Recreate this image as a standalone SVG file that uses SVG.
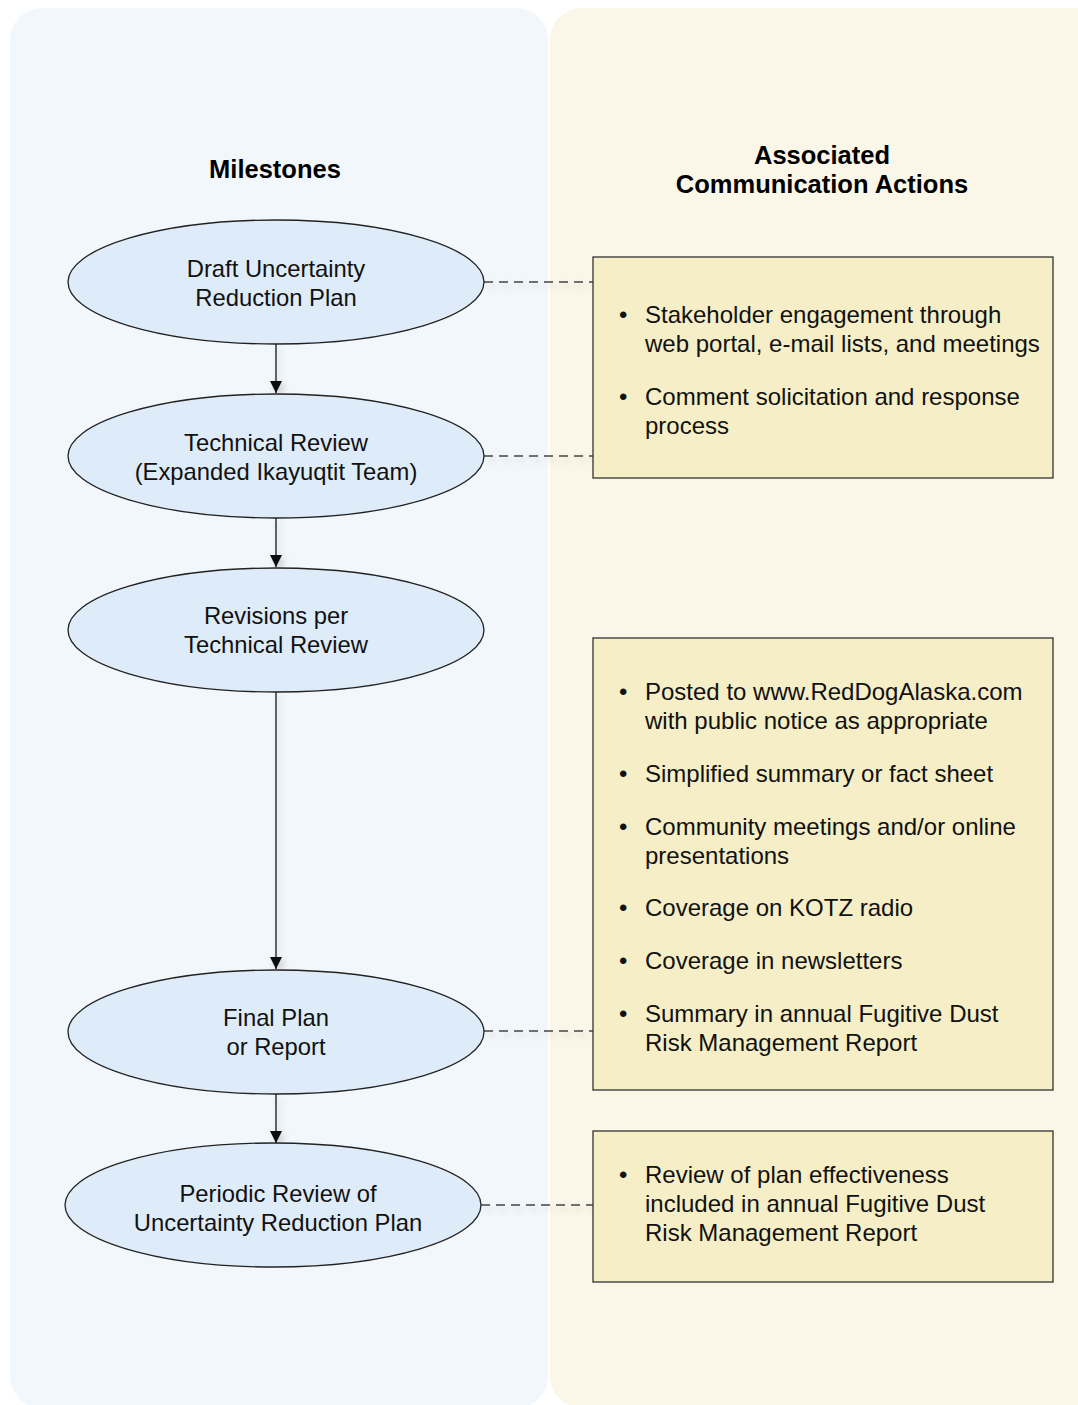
<svg xmlns="http://www.w3.org/2000/svg" width="1078" height="1405" viewBox="0 0 1078 1405">
<style>
.lane-l{fill:#f2f7fc}
.lane-r{fill:#faf7e8}
.hdr{font-family:"Liberation Sans",Arial,sans-serif;font-weight:bold;font-size:25.5px;fill:#000;text-anchor:middle}
.ell{fill:#deebf8;stroke:#222;stroke-width:1.3}
.et{font-family:"Liberation Sans",Arial,sans-serif;font-size:23.8px;fill:#111;text-anchor:middle}
.box{fill:#f5eec6;stroke:#333;stroke-width:1.3}
.bt{font-family:"Liberation Sans",Arial,sans-serif;font-size:24px;fill:#111}
.arr{stroke:#111;stroke-width:1.3;fill:none}
.dash{stroke:#444;stroke-width:1.3;stroke-dasharray:9,6;fill:none}
</style>
<defs>
<marker id="ah" markerWidth="12" markerHeight="14" refX="12" refY="7" orient="auto" markerUnits="userSpaceOnUse">
<path d="M0,1 L12,7 L0,13 z" fill="#111"/>
</marker>
<filter id="sh" x="-50%" y="-50%" width="200%" height="200%">
<feDropShadow dx="3" dy="4" stdDeviation="3" flood-color="#000" flood-opacity="0.18"/>
</filter>
</defs>
<rect class="lane-l" x="10" y="8" width="538" height="1400" rx="32"/>
<rect class="lane-r" x="550" y="8" width="560" height="1400" rx="32"/>
<text class="hdr" x="275" y="178">Milestones</text>
<text class="hdr" x="822" y="164">Associated</text>
<text class="hdr" x="822" y="193">Communication Actions</text>
<g id="connectors" filter="url(#sh)">
<line class="arr" x1="276" y1="344" x2="276" y2="393" marker-end="url(#ah)"/>
<line class="arr" x1="276" y1="517" x2="276" y2="567" marker-end="url(#ah)"/>
<line class="arr" x1="276" y1="691" x2="276" y2="969" marker-end="url(#ah)"/>
<line class="arr" x1="276" y1="1094" x2="276" y2="1143" marker-end="url(#ah)"/>
<line class="dash" x1="484" y1="282" x2="593" y2="282"/>
<line class="dash" x1="484" y1="456" x2="593" y2="456"/>
<line class="dash" x1="484" y1="1031" x2="593" y2="1031"/>
<line class="dash" x1="481" y1="1205" x2="593" y2="1205"/>
</g>
<g id="n1"><ellipse class="ell" cx="276" cy="282" rx="208" ry="62"/>
<text class="et" x="276" y="277">Draft Uncertainty</text><text class="et" x="276" y="306">Reduction Plan</text></g>
<g id="n2"><ellipse class="ell" cx="276" cy="456" rx="208" ry="62"/>
<text class="et" x="276" y="451">Technical Review</text><text class="et" x="276" y="480">(Expanded Ikayuqtit Team)</text></g>
<g id="n3"><ellipse class="ell" cx="276" cy="630" rx="208" ry="62"/>
<text class="et" x="276" y="624">Revisions per</text><text class="et" x="276" y="653">Technical Review</text></g>
<g id="n4"><ellipse class="ell" cx="276" cy="1032" rx="208" ry="62"/>
<text class="et" x="276" y="1026">Final Plan</text><text class="et" x="276" y="1055">or Report</text></g>
<g id="n5"><ellipse class="ell" cx="273" cy="1205" rx="208" ry="62"/>
<text class="et" x="278" y="1202">Periodic Review of</text><text class="et" x="278" y="1231">Uncertainty Reduction Plan</text></g>
<g id="b1"><rect class="box" x="593" y="257" width="460" height="221"/>
<text class="bt"><tspan x="619" y="323">•</tspan><tspan x="645" y="323">Stakeholder engagement through</tspan><tspan x="645" y="352">web portal, e-mail lists, and meetings</tspan>
<tspan x="619" y="405">•</tspan><tspan x="645" y="405">Comment solicitation and response</tspan><tspan x="645" y="434">process</tspan></text></g>
<g id="b2"><rect class="box" x="593" y="638" width="460" height="452"/>
<text class="bt"><tspan x="619" y="700">•</tspan><tspan x="645" y="700">Posted to www.RedDogAlaska.com</tspan><tspan x="645" y="729">with public notice as appropriate</tspan>
<tspan x="619" y="782">•</tspan><tspan x="645" y="782">Simplified summary or fact sheet</tspan>
<tspan x="619" y="835">•</tspan><tspan x="645" y="835">Community meetings and/or online</tspan><tspan x="645" y="864">presentations</tspan>
<tspan x="619" y="916">•</tspan><tspan x="645" y="916">Coverage on KOTZ radio</tspan>
<tspan x="619" y="969">•</tspan><tspan x="645" y="969">Coverage in newsletters</tspan>
<tspan x="619" y="1022">•</tspan><tspan x="645" y="1022">Summary in annual Fugitive Dust</tspan><tspan x="645" y="1051">Risk Management Report</tspan></text></g>
<g id="b3"><rect class="box" x="593" y="1131" width="460" height="151"/>
<text class="bt"><tspan x="619" y="1183">•</tspan><tspan x="645" y="1183">Review of plan effectiveness</tspan><tspan x="645" y="1212">included in annual Fugitive Dust</tspan><tspan x="645" y="1241">Risk Management Report</tspan></text></g>
</svg>
